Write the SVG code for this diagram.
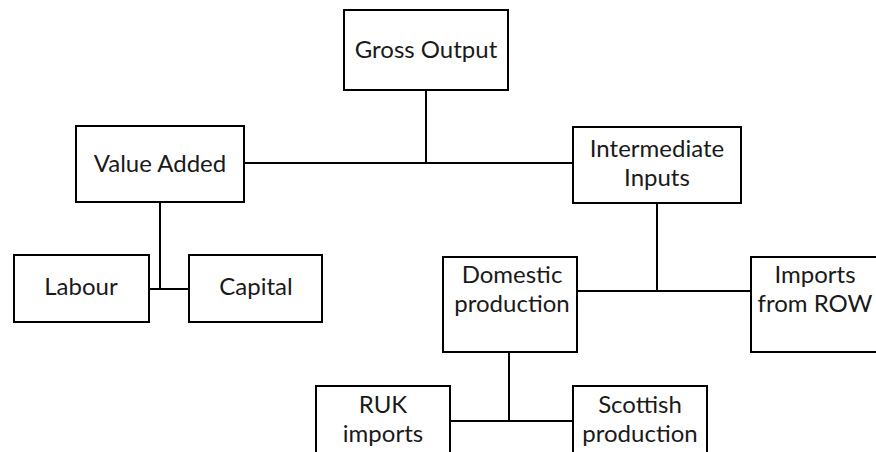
<svg xmlns="http://www.w3.org/2000/svg" width="876" height="452" viewBox="0 0 876 452">
<style>
.box{fill:#fff;stroke:#000;stroke-width:2}
.lbl{font-family:Lato,"Open Sans",sans-serif;font-size:24px;fill:#1a1a1a;text-anchor:middle}
.con{stroke:#000;stroke-width:2;fill:none}
</style>
<rect width="876" height="452" fill="#fff"/>
<g id="connectors">
<path class="con" d="M426 90V163M244 163H573M160 202V289M149 289H189M657 203V291M577 291H751M509 352V421M450 421H573"/>
</g>
<g id="gross-output"><rect class="box" x="344" y="10" width="164" height="80"/><text class="lbl" x="426" y="58">Gross Output</text></g>
<g id="value-added"><rect class="box" x="76" y="126" width="168" height="76"/><text class="lbl" x="160" y="172">Value Added</text></g>
<g id="intermediate-inputs"><rect class="box" x="573" y="127" width="168" height="76"/><text class="lbl" x="657" y="157">Intermediate</text><text class="lbl" x="657" y="186">Inputs</text></g>
<g id="labour"><rect class="box" x="14" y="255" width="135" height="67"/><text class="lbl" x="81" y="295">Labour</text></g>
<g id="capital"><rect class="box" x="189" y="255" width="133" height="67"/><text class="lbl" x="256" y="295">Capital</text></g>
<g id="domestic-production"><rect class="box" x="443" y="257" width="134" height="95"/><text class="lbl" x="512" y="283">Domestic</text><text class="lbl" x="512" y="312">production</text></g>
<g id="imports-row"><rect class="box" x="751" y="257" width="132" height="95"/><text class="lbl" x="815" y="283">Imports</text><text class="lbl" x="815" y="312">from ROW</text></g>
<g id="ruk-imports"><rect class="box" x="316" y="386" width="134" height="80"/><text class="lbl" x="383" y="413">RUK</text><text class="lbl" x="383" y="442">imports</text></g>
<g id="scottish-production"><rect class="box" x="573" y="386" width="134" height="80"/><text class="lbl" x="640" y="413">Scottish</text><text class="lbl" x="640" y="442">production</text></g>
</svg>
